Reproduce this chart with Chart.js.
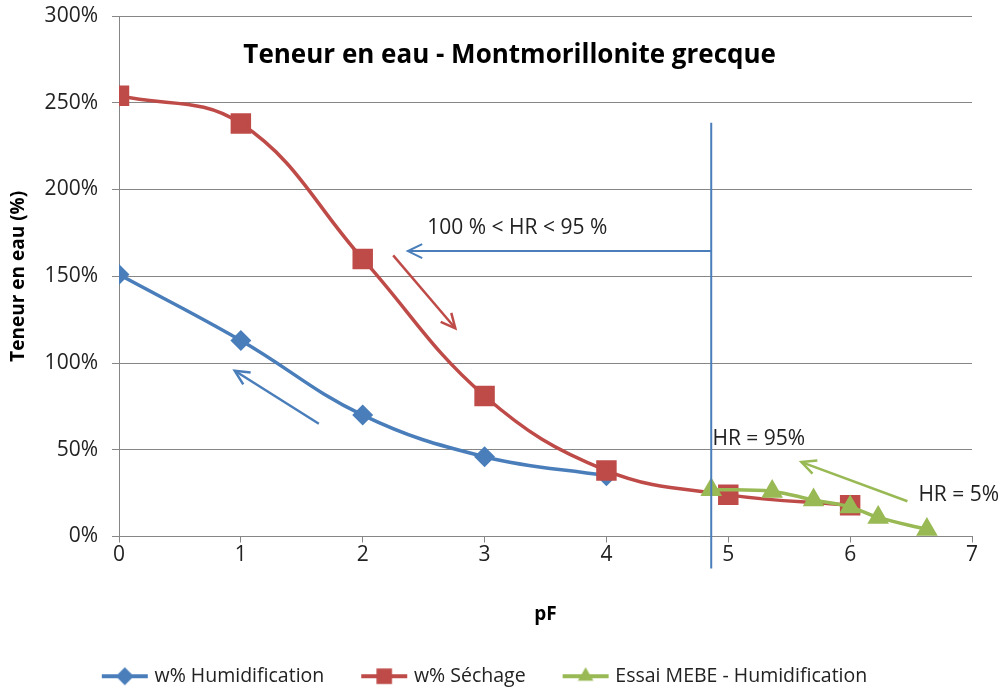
<!DOCTYPE html>
<html>
<head>
<meta charset="utf-8">
<script src="https://cdn.jsdelivr.net/npm/chart.js@4"></script>
<style>
  html, body { margin: 0; padding: 0; background: #fff; }
  #wrap { width: 1003px; height: 688px; }
</style>
</head>
<body>
<div id="wrap"><canvas id="chartCanvas"></canvas></div>
<script>
// series
const pfHumid = [0, 1, 2, 3, 4];
const wHumid = [151, 113, 70, 46, 35];
const pfSechage = [0, 1, 2, 3, 4, 5, 6];
const wSechage = [254, 238, 160, 81, 38, 24, 18];
const pfMebe = [4.86, 5.36, 5.70, 6.0, 6.23, 6.63];
const wMebe = [27, 26, 21, 17, 11, 4];

const seriesNames = ["w% Humidification", "w% Séchage", "Essai MEBE - Humidification"];
const chartTitle = "Teneur en eau - Montmorillonite grecque";

// annotation lines, in data units (pF, %)
const hrLine = [[4.86, 238.5], [4.86, -18.5]];
const arrowHR = [[4.86, 164.5], [2.37, 164.5]];
const arrowRed = [[2.25, 162], [2.76, 120]];
const arrowBlue = [[1.64, 65], [0.95, 95.5]];
const arrowGreen = [[6.47, 20.3], [5.60, 42.9]];
const noteTexts = ["100 % < HR < 95 %", "HR = 95%", "HR = 5%"];
const notePos = [[2.53, 178], [4.87, 56], [6.56, 24]];

const blue = "#4a7ebb", red = "#be4b48", green = "#98b954";
const FONT = "'Open Sans', sans-serif";

const toPts = (xs, ys) => xs.map((x, i) => ({x: x, y: ys[i]}));

// little line + marker picture for the legend, like Excel draws it
function legendIcon(color, style, r) {
    const c = document.createElement("canvas");
    c.width = 48; c.height = 20;
    const g = c.getContext("2d");
    g.strokeStyle = color;
    g.fillStyle = color;
    g.lineWidth = 4;
    g.beginPath(); g.moveTo(1, 10); g.lineTo(47, 10); g.stroke();
    Chart.helpers.drawPoint(g, {pointStyle: style, radius: r, borderWidth: 0}, 24, 10);
    return c;
}

const notesPlugin = {
    id: "notes",
    afterDatasetsDraw(chart) {
        const {ctx, scales: {x, y}, chartArea} = chart;
        const px = p => [x.getPixelForValue(p[0]), y.getPixelForValue(p[1])];

        const line = (pts, color, w) => {
            const a = px(pts[0]), b = px(pts[1]);
            ctx.strokeStyle = color;
            ctx.lineWidth = w;
            ctx.beginPath();
            ctx.moveTo(a[0], a[1]);
            ctx.lineTo(b[0], b[1]);
            ctx.stroke();
            return [a, b];
        };
        const arrow = (pts, color, w) => {
            const [a, b] = line(pts, color, w);
            const ang = Math.atan2(b[1] - a[1], b[0] - a[0]);
            const len = 16;
            ctx.beginPath();
            ctx.moveTo(b[0] - len * Math.cos(ang - 0.45), b[1] - len * Math.sin(ang - 0.45));
            ctx.lineTo(b[0], b[1]);
            ctx.lineTo(b[0] - len * Math.cos(ang + 0.45), b[1] - len * Math.sin(ang + 0.45));
            ctx.stroke();
        };

        ctx.save();
        line(hrLine, blue, 2);
        arrow(arrowHR, blue, 2);
        arrow(arrowRed, red, 2.5);
        arrow(arrowBlue, blue, 2.5);
        arrow(arrowGreen, green, 2.5);

        ctx.fillStyle = "#222";
        ctx.font = "21px " + FONT;
        ctx.textBaseline = "middle";
        noteTexts.forEach((t, i) => {
            const p = px(notePos[i]);
            ctx.fillText(t, p[0], p[1]);
        });

        // title sits inside the plot
        ctx.font = "bold 26px " + FONT;
        ctx.fillStyle = "#000";
        ctx.textAlign = "center";
        ctx.fillText(chartTitle, chartArea.left + chartArea.width * 0.458, chartArea.top + 40);
        ctx.restore();
    }
};

const icons = [legendIcon(blue, "rectRot", 9), legendIcon(red, "rect", 11), legendIcon(green, "triangle", 9)];

new Chart(document.getElementById("chartCanvas"), {
    type: "line",
    data: {
        datasets: [{
            label: seriesNames[0],
            data: toPts(pfHumid, wHumid),
            borderColor: blue,
            backgroundColor: blue,
            borderWidth: 3.5,
            pointStyle: "rectRot",
            pointRadius: 8,
            tension: 0.4,
            order: 3
        }, {
            label: seriesNames[1],
            data: toPts(pfSechage, wSechage),
            borderColor: red,
            backgroundColor: red,
            borderWidth: 3.5,
            pointStyle: "rect",
            pointRadius: 12,
            tension: 0.4,
            order: 2
        }, {
            label: seriesNames[2],
            data: toPts(pfMebe, wMebe),
            borderColor: green,
            backgroundColor: green,
            borderWidth: 3.5,
            pointStyle: "triangle",
            pointRadius: 9,
            tension: 0.4,
            order: 1
        }]
    },
    options: {
        responsive: true,
        maintainAspectRatio: false,
        animation: false,
        layout: {padding: {top: 16, right: 31, left: 0, bottom: -8}},
        plugins: {
            legend: {
                position: "bottom",
                labels: {
                    usePointStyle: true,
                    pointStyleWidth: 40,
                    font: {family: FONT, size: 19.5},
                    color: "#222",
                    padding: 40,
                    sort: (a, b) => a.datasetIndex - b.datasetIndex,
                    generateLabels: chart => Chart.defaults.plugins.legend.labels.generateLabels(chart)
                        .map(l => Object.assign(l, {pointStyle: icons[l.datasetIndex]}))
                }
            },
            tooltip: {enabled: false}
        },
        scales: {
            x: {
                type: "linear",
                min: 0,
                max: 7,
                ticks: {stepSize: 1, color: "#222", font: {family: FONT, size: 21}, padding: 0},
                grid: {drawOnChartArea: false, tickLength: 6, color: "#868686"},
                border: {color: "#868686"},
                title: {display: true, text: "pF", font: {family: FONT, size: 19, weight: "bold"}, color: "#000", padding: {top: 0, bottom: 1}},
                afterFit: s => { s.height = 90; }
            },
            y: {
                min: 0,
                max: 300,
                ticks: {stepSize: 50, color: "#222", font: {family: FONT, size: 21}, padding: 14,
                    callback: v => v + "%"},
                grid: {tickLength: 7, color: "#868686"},
                border: {color: "#868686"},
                title: {display: true, text: "Teneur en eau (%)", font: {family: FONT, size: 19, weight: "bold"}, color: "#000", padding: {top: 7, bottom: 0}},
                afterFit: s => { s.width = 119; s.paddingTop = 0; s.paddingBottom = 0; }
            }
        }
    },
    plugins: [notesPlugin]
});
</script>
</body>
</html>
